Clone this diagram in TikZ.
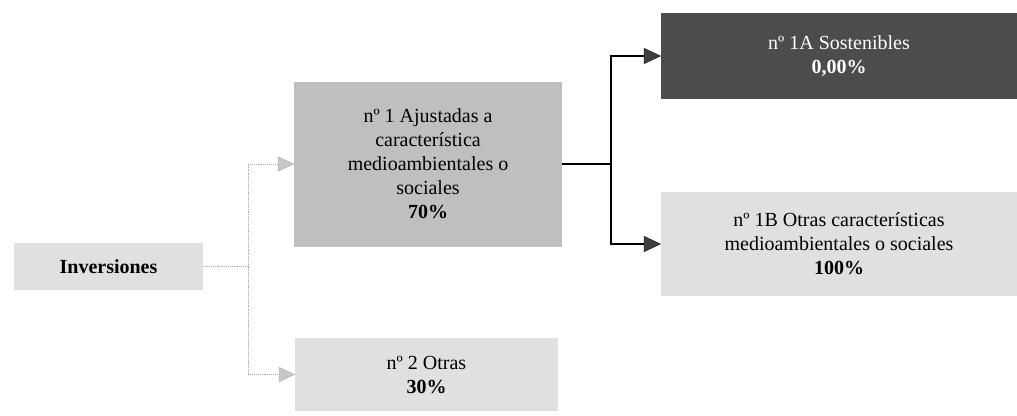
\documentclass[tikz,border=0pt]{standalone}
\usepackage{fontspec}
\setmainfont{Liberation Serif}
\usetikzlibrary{arrows.meta}
\begin{document}
\begin{tikzpicture}[x=1pt,y=-1pt,
  box/.style={draw=none,inner sep=0pt,align=center,font=\fontsize{20}{24}\selectfont},
  lightconn/.style={draw=black!35,line width=0.9pt,densely dotted,
    -{Triangle[length=16pt,width=15pt,fill=black!22,color=black!35,line width=0.4pt]}},
  darkconn/.style={draw=black,line width=1.1pt,
    -{Triangle[length=17pt,width=16pt,fill=black!75,color=black,line width=0.4pt]}},
  lightline/.style={draw=black!35,line width=0.9pt,densely dotted},
  darkline/.style={draw=black,line width=1.1pt}]
\useasboundingbox (0,0) rectangle (1017,415);
\node[box,fill=black!12,minimum width=189pt,minimum height=47pt] (inv) at (108.5,266.5) {\textbf{Inversiones}};
\node[box,fill=black!25,minimum width=268pt,minimum height=165pt] (n1) at (428,164) {nº 1 Ajustadas a\\característica\\medioambientales o\\sociales\\\textbf{70\%}};
\node[box,fill=black!12,minimum width=263pt,minimum height=73pt] (n2) at (426.5,374.5) {nº 2 Otras\\\textbf{30\%}};
\node[box,fill=black!70,text=white,minimum width=356pt,minimum height=86pt] (n1a) at (839,56) {nº 1A Sostenibles\\\textbf{0,00\%}};
\node[box,fill=black!12,minimum width=356pt,minimum height=104pt] (n1b) at (839,244) {nº 1B Otras características\\medioambientales o sociales\\\textbf{100\%}};
\coordinate (jl) at (248,266.5);
\coordinate (jr) at (611,164);
\draw[lightline] (inv.east) -- (jl);
\draw[lightconn] (jl) |- (n1.west);
\draw[lightconn] (jl) |- (n2.west);
\draw[darkline] (n1.east) -- (jr);
\draw[darkconn] (jr) |- (n1a.west);
\draw[darkconn] (jr) |- (n1b.west);
\end{tikzpicture}
\end{document}
